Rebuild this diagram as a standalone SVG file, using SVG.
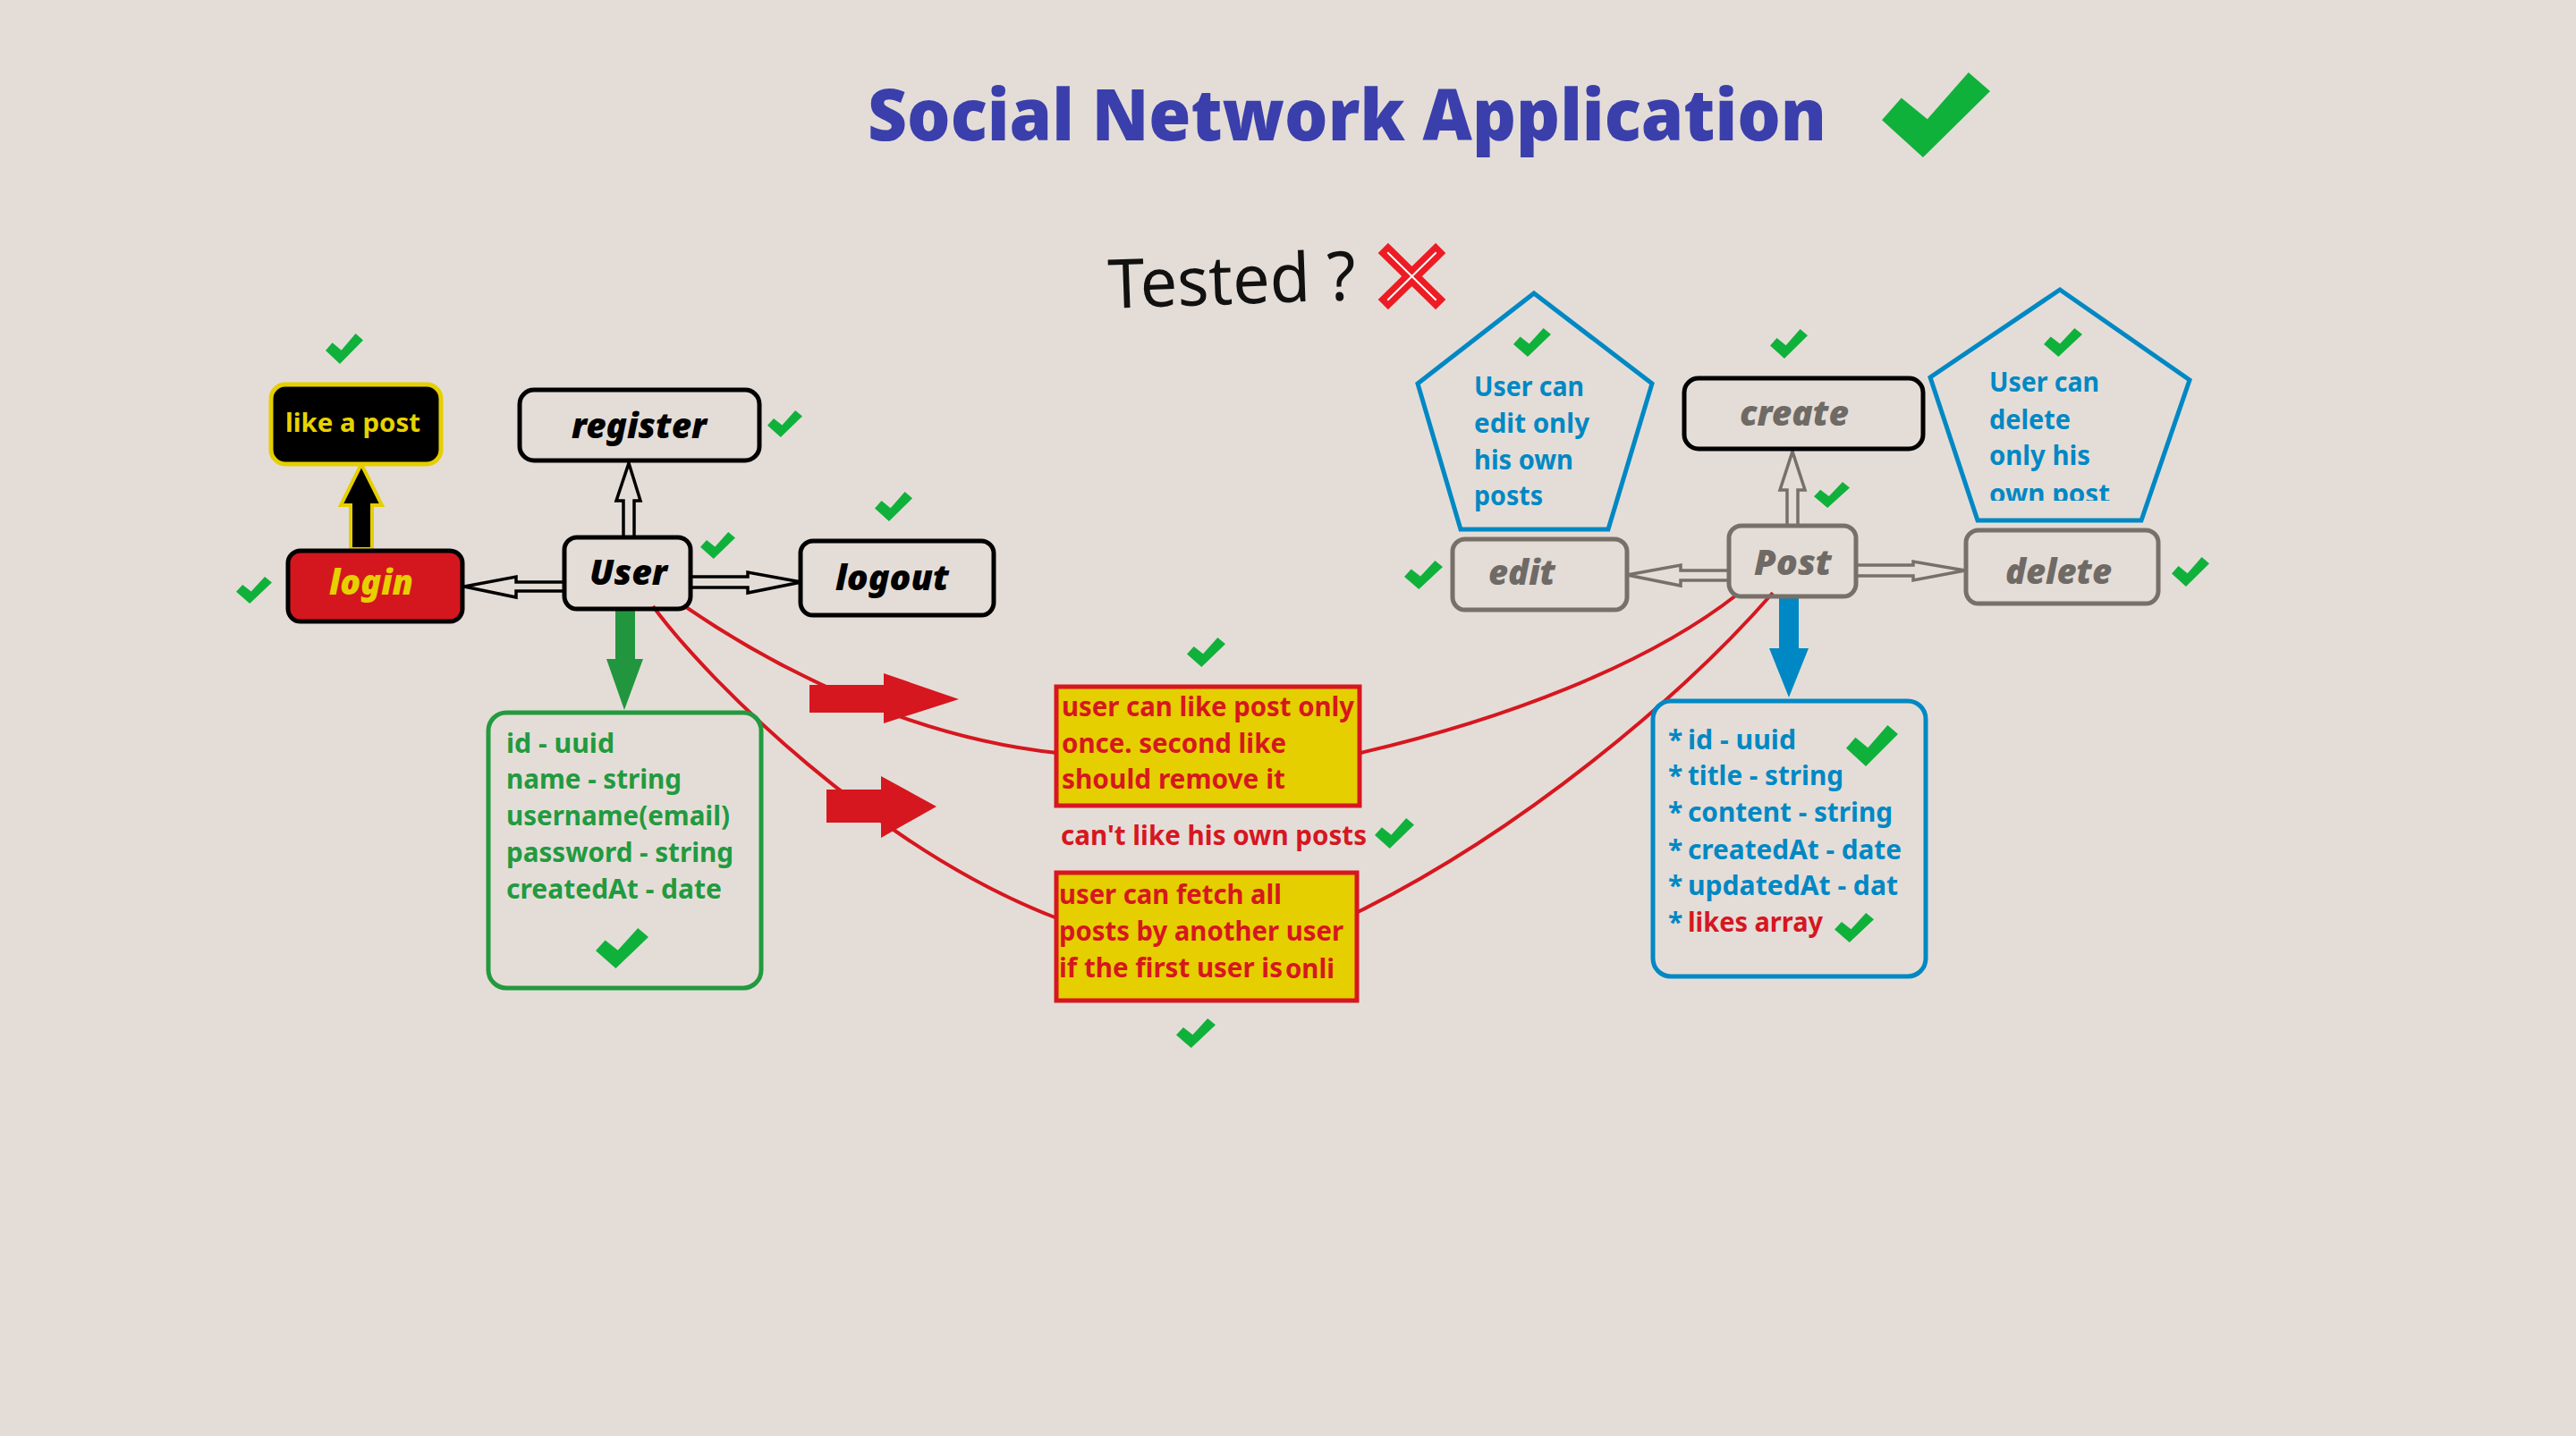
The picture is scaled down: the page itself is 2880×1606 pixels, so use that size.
<svg xmlns="http://www.w3.org/2000/svg" xmlns:xlink="http://www.w3.org/1999/xlink" width="2880" height="1606" viewBox="0 0 2880 1606">
<style>
text{font-family:"Noto Sans","Open Sans","Liberation Sans",sans-serif;font-weight:bold}
.lbl{font-size:38px;font-style:italic;font-weight:900}
.blk{fill:none;stroke:#000;stroke-width:5}
.gry{fill:none;stroke:#767069;stroke-width:5}
.gtx{fill:#6f6a65}
.hol{fill:#e4ddd7;stroke:#000;stroke-width:3.5;stroke-linejoin:miter}
.holg{fill:#e4ddd7;stroke:#767069;stroke-width:3.5}
.attrG{fill:#229a3f;font-size:30px}
.attrB{fill:#0088c4;font-size:30px}
.red{fill:#d6171f;font-size:30px}
.pent{fill:none;stroke:#0088c4;stroke-width:5}
.curve{fill:none;stroke:#d6171f;stroke-width:4}
.ck{fill:#10b13b}
</style>
<defs>
<symbol id="check" viewBox="0 0 100 100" preserveAspectRatio="none">
<polygon points="0,56 18,30 42,55 80,0 100,22 38,100"/>
</symbol>
<clipPath id="clipPent"><rect x="2150" y="300" width="320" height="260"/></clipPath>
</defs>
<rect width="2880" height="1606" fill="#e4ddd7"/>

<g id="title">
<text x="970" y="157" font-size="80" style="font-weight:900" fill="#3a3fab" textLength="1072" lengthAdjust="spacingAndGlyphs">Social Network Application</text>
<use href="#check" class="ck" x="2104" y="81" width="121" height="95"/>
</g>

<g id="tested">
<text x="1239" y="340" font-size="76" style="font-weight:normal" fill="#111" textLength="277" lengthAdjust="spacingAndGlyphs" transform="rotate(-2 1378 318)">Tested ?</text>
<g stroke-linecap="square">
<line x1="1552" y1="283" x2="1605" y2="335" stroke="#ed1c24" stroke-width="16"/>
<line x1="1605" y1="283" x2="1552" y2="335" stroke="#ed1c24" stroke-width="16"/>
<line x1="1552" y1="283" x2="1605" y2="335" stroke="#fff" stroke-width="2"/>
<line x1="1605" y1="283" x2="1552" y2="335" stroke="#fff" stroke-width="2"/>
</g>
</g>

<g id="connectors">
<path class="curve" d="M764,677 C870,750 1020,825 1182,842 L1521,842 C1680,805 1840,745 1942,665"/>
<path class="curve" d="M730,678 C790,760 980,950 1182,1027 L1518,1020 C1700,930 1880,780 1982,663"/>
<polygon fill="#d6171f" points="905,766 988,766 988,753 1072,782 988,809 988,797 905,797"/>
<polygon fill="#d6171f" points="924,883 985,883 985,868 1047,902 985,937 985,920 924,920"/>
<polygon class="hol" points="697,601 697,560 689,560 703,518 716,560 709,560 709,601"/>
<polygon class="hol" points="631,651 577,651 577,645 519,656 577,668 577,661 631,661"/>
<polygon class="hol" points="772,645 836,645 836,640 896,651 836,663 836,657 772,657"/>
<polygon fill="#000" stroke="#e6cf00" stroke-width="4" points="392,614 392,565 381,565 404,519 427,565 416,565 416,614"/>
<polygon fill="#22963e" points="688,682 688,737 678,737 698,794 719,737 710,737 710,682"/>
<polygon class="holg" points="1998,588 1998,548 1990,548 2004,505 2018,548 2010,548 2010,588"/>
<polygon class="holg" points="1933,638 1879,638 1879,632 1819,643 1879,655 1879,649 1933,649"/>
<polygon class="holg" points="2075,632 2139,632 2139,628 2197,638 2139,649 2139,644 2075,644"/>
<polygon fill="#0088c4" points="1989,667 1989,725 1978,725 2000,780 2022,725 2011,725 2011,667"/>
</g>

<g id="like-a-post">
<rect x="303" y="430" width="190" height="89" rx="16" fill="#000" stroke="#e6cf00" stroke-width="5"/>
<text x="319" y="483" font-size="28" fill="#e8d200" textLength="151" lengthAdjust="spacingAndGlyphs">like a post</text>
<use href="#check" class="ck" x="364" y="373" width="42" height="34"/>
</g>

<g id="login">
<rect x="322" y="616" width="195" height="79" rx="14" fill="#d4171e" stroke="#000" stroke-width="5"/>
<text class="lbl" x="368" y="665" fill="#e6d000" textLength="94" lengthAdjust="spacingAndGlyphs">login</text>
<use href="#check" class="ck" x="264" y="645" width="40" height="30"/>
</g>

<g id="register">
<rect class="blk" x="581" y="436" width="268" height="79" rx="16"/>
<text class="lbl" x="639" y="490" font-size="40" fill="#000" textLength="151" lengthAdjust="spacingAndGlyphs">register</text>
<use href="#check" class="ck" x="858" y="459" width="39" height="30"/>
</g>

<g id="user">
<rect class="blk" x="631" y="601" width="141" height="80" rx="14"/>
<text class="lbl" x="659" y="654" fill="#000" textLength="87" lengthAdjust="spacingAndGlyphs">User</text>
<use href="#check" class="ck" x="783" y="595" width="39" height="30"/>
</g>

<g id="logout">
<rect class="blk" x="895" y="605" width="216" height="83" rx="14"/>
<text class="lbl" x="934" y="660" fill="#000" textLength="127" lengthAdjust="spacingAndGlyphs">logout</text>
<use href="#check" class="ck" x="978" y="550" width="42" height="33"/>
</g>

<g id="user-attributes">
<rect x="546" y="797" width="305" height="308" rx="20" fill="none" stroke="#229a3f" stroke-width="5"/>
<text class="attrG" x="566" y="842" textLength="121" lengthAdjust="spacingAndGlyphs">id - uuid</text>
<text class="attrG" x="566" y="882" textLength="196" lengthAdjust="spacingAndGlyphs">name - string</text>
<text class="attrG" x="566" y="923" textLength="250" lengthAdjust="spacingAndGlyphs">username(email)</text>
<text class="attrG" x="566" y="964" textLength="254" lengthAdjust="spacingAndGlyphs">password - string</text>
<text class="attrG" x="566" y="1005" textLength="241" lengthAdjust="spacingAndGlyphs">createdAt - date</text>
<use href="#check" class="ck" x="666" y="1038" width="59" height="45"/>
</g>

<g id="rule-like-once">
<rect x="1181" y="768" width="339" height="133" fill="#e5cf00" stroke="#d6171f" stroke-width="5"/>
<text class="red" x="1187" y="801" textLength="327" lengthAdjust="spacingAndGlyphs">user can like post only</text>
<text class="red" x="1187" y="842" textLength="251" lengthAdjust="spacingAndGlyphs">once. second like</text>
<text class="red" x="1187" y="882" textLength="250" lengthAdjust="spacingAndGlyphs">should remove it</text>
<use href="#check" class="ck" x="1327" y="713" width="43" height="33"/>
</g>

<g id="rule-own-posts">
<text class="red" x="1186" y="945" textLength="342" lengthAdjust="spacingAndGlyphs">can't like his own posts</text>
<use href="#check" class="ck" x="1537" y="915" width="44" height="34"/>
</g>

<g id="rule-fetch">
<rect x="1181" y="976" width="336" height="143" fill="#e5cf00" stroke="#d6171f" stroke-width="5"/>
<text class="red" x="1184" y="1011" textLength="249" lengthAdjust="spacingAndGlyphs">user can fetch all</text>
<text class="red" x="1184" y="1052" textLength="318" lengthAdjust="spacingAndGlyphs">posts by another user</text>
<text class="red" x="1184" y="1093" textLength="250" lengthAdjust="spacingAndGlyphs">if the first user is</text>
<text class="red" x="1437" y="1094" font-size="30" textLength="55" lengthAdjust="spacingAndGlyphs">onli</text>
<use href="#check" class="ck" x="1315" y="1139" width="44" height="33"/>
</g>

<g id="edit-rule">
<polygon class="pent" points="1715,328 1847,429 1798,592 1633,592 1585,429"/>
<text class="attrB" x="1648" y="443" textLength="123" lengthAdjust="spacingAndGlyphs">User can</text>
<text class="attrB" x="1648" y="484" textLength="129" lengthAdjust="spacingAndGlyphs">edit only</text>
<text class="attrB" x="1648" y="525" textLength="111" lengthAdjust="spacingAndGlyphs">his own</text>
<text class="attrB" x="1648" y="565" textLength="77" lengthAdjust="spacingAndGlyphs">posts</text>
<use href="#check" class="ck" x="1692" y="367" width="42" height="32"/>
</g>

<g id="delete-rule">
<polygon class="pent" points="2303,324 2448,425 2394,582 2211,582 2158,422"/>
<text class="attrB" x="2224" y="438" textLength="123" lengthAdjust="spacingAndGlyphs">User can</text>
<text class="attrB" x="2224" y="480" textLength="91" lengthAdjust="spacingAndGlyphs">delete</text>
<text class="attrB" x="2224" y="520" textLength="113" lengthAdjust="spacingAndGlyphs">only his</text>
<text class="attrB" x="2224" y="563" textLength="135" lengthAdjust="spacingAndGlyphs" clip-path="url(#clipPent)">own post</text>
<use href="#check" class="ck" x="2285" y="367" width="43" height="32"/>
</g>

<g id="create">
<rect class="blk" x="1883" y="423" width="267" height="79" rx="16"/>
<text class="lbl gtx" x="1945" y="476" textLength="122" lengthAdjust="spacingAndGlyphs">create</text>
<use href="#check" class="ck" x="1979" y="368" width="42" height="33"/>
</g>

<g id="post">
<rect class="gry" x="1933" y="588" width="142" height="79" rx="14"/>
<text class="lbl gtx" x="1961" y="643" textLength="87" lengthAdjust="spacingAndGlyphs">Post</text>
<use href="#check" class="ck" x="2028" y="539" width="40" height="29"/>
</g>

<g id="edit">
<rect class="gry" x="1624" y="603" width="195" height="79" rx="14"/>
<text class="lbl gtx" x="1664" y="654" textLength="75" lengthAdjust="spacingAndGlyphs">edit</text>
<use href="#check" class="ck" x="1570" y="627" width="43" height="32"/>
</g>

<g id="delete">
<rect class="gry" x="2198" y="593" width="215" height="82" rx="14"/>
<text class="lbl gtx" x="2242" y="653" textLength="119" lengthAdjust="spacingAndGlyphs">delete</text>
<use href="#check" class="ck" x="2428" y="623" width="42" height="33"/>
</g>

<g id="post-attributes">
<rect x="1848" y="784" width="305" height="308" rx="20" fill="none" stroke="#0088c4" stroke-width="5"/>
<text class="attrB" x="1865" y="838">*</text><text class="attrB" x="1887" y="838" textLength="121" lengthAdjust="spacingAndGlyphs">id - uuid</text>
<text class="attrB" x="1865" y="878">*</text><text class="attrB" x="1887" y="878" textLength="174" lengthAdjust="spacingAndGlyphs">title - string</text>
<text class="attrB" x="1865" y="919">*</text><text class="attrB" x="1887" y="919" textLength="229" lengthAdjust="spacingAndGlyphs">content - string</text>
<text class="attrB" x="1865" y="961">*</text><text class="attrB" x="1887" y="961" textLength="239" lengthAdjust="spacingAndGlyphs">createdAt - date</text>
<text class="attrB" x="1865" y="1001">*</text><text class="attrB" x="1887" y="1001" textLength="235" lengthAdjust="spacingAndGlyphs">updatedAt - dat</text>
<text class="attrB" x="1865" y="1042">*</text><text class="red" x="1887" y="1042" textLength="151" lengthAdjust="spacingAndGlyphs">likes array</text>
<use href="#check" class="ck" x="2064" y="811" width="58" height="46"/>
<use href="#check" class="ck" x="2051" y="1021" width="44" height="33"/>
</g>
</svg>
